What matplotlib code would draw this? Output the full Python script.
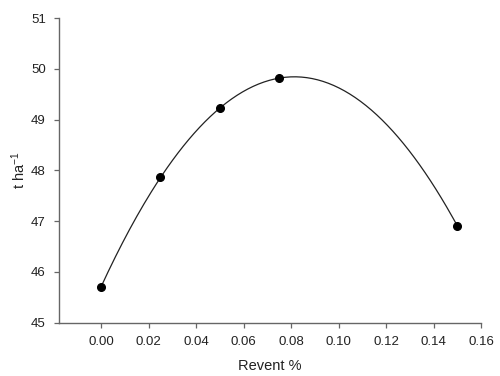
import numpy as np
import matplotlib.pyplot as plt

plt.rcParams['font.family'] = ['Liberation Sans', 'DejaVu Sans']
plt.rcParams['mathtext.fontset'] = 'custom'
plt.rcParams['mathtext.rm'] = 'Liberation Sans'
plt.rcParams['mathtext.default'] = 'regular'

# Revent dose vs yield
revent = [0.0, 0.025, 0.05, 0.075, 0.15]
yield_t = [45.70, 47.86, 49.23, 49.81, 46.91]
xticks = [0.00, 0.02, 0.04, 0.06, 0.08, 0.10, 0.12, 0.14, 0.16]
yticks = [45, 46, 47, 48, 49, 50, 51]

# quadratic fit through the points
coef = np.polyfit(revent, yield_t, 2)
xs = np.linspace(min(revent), max(revent), 200)
ys = np.polyval(coef, xs)

fig = plt.figure(figsize=(5, 3.76), dpi=100)
ax = fig.add_axes([0.118, 0.142, 0.844, 0.81])

ax.plot(xs, ys, color='#222222', lw=0.9)
ax.plot(revent, yield_t, 'o', color='black', ms=5.5)

ax.set_xlim(-0.0177, 0.16)
ax.set_ylim(45, 51)
ax.set_xticks(xticks)
ax.set_xticklabels([f"{t:.2f}" for t in xticks])
ax.set_yticks(yticks)

for side in ['top', 'right']:
    ax.spines[side].set_visible(False)
for side in ['left', 'bottom']:
    ax.spines[side].set_color('#666666')
    ax.spines[side].set_linewidth(1.0)
ax.tick_params(colors='#666666', labelcolor='#222222', labelsize=9.5,
               length=3.5, width=0.9, direction='out', pad=6)

ax.set_xlabel('Revent %', fontsize=10.5, color='#222222', labelpad=8)
ax.set_ylabel('t ha$^{-1}$', fontsize=10.5, color='#222222', labelpad=2)

fig.savefig('out.png', dpi=100)
